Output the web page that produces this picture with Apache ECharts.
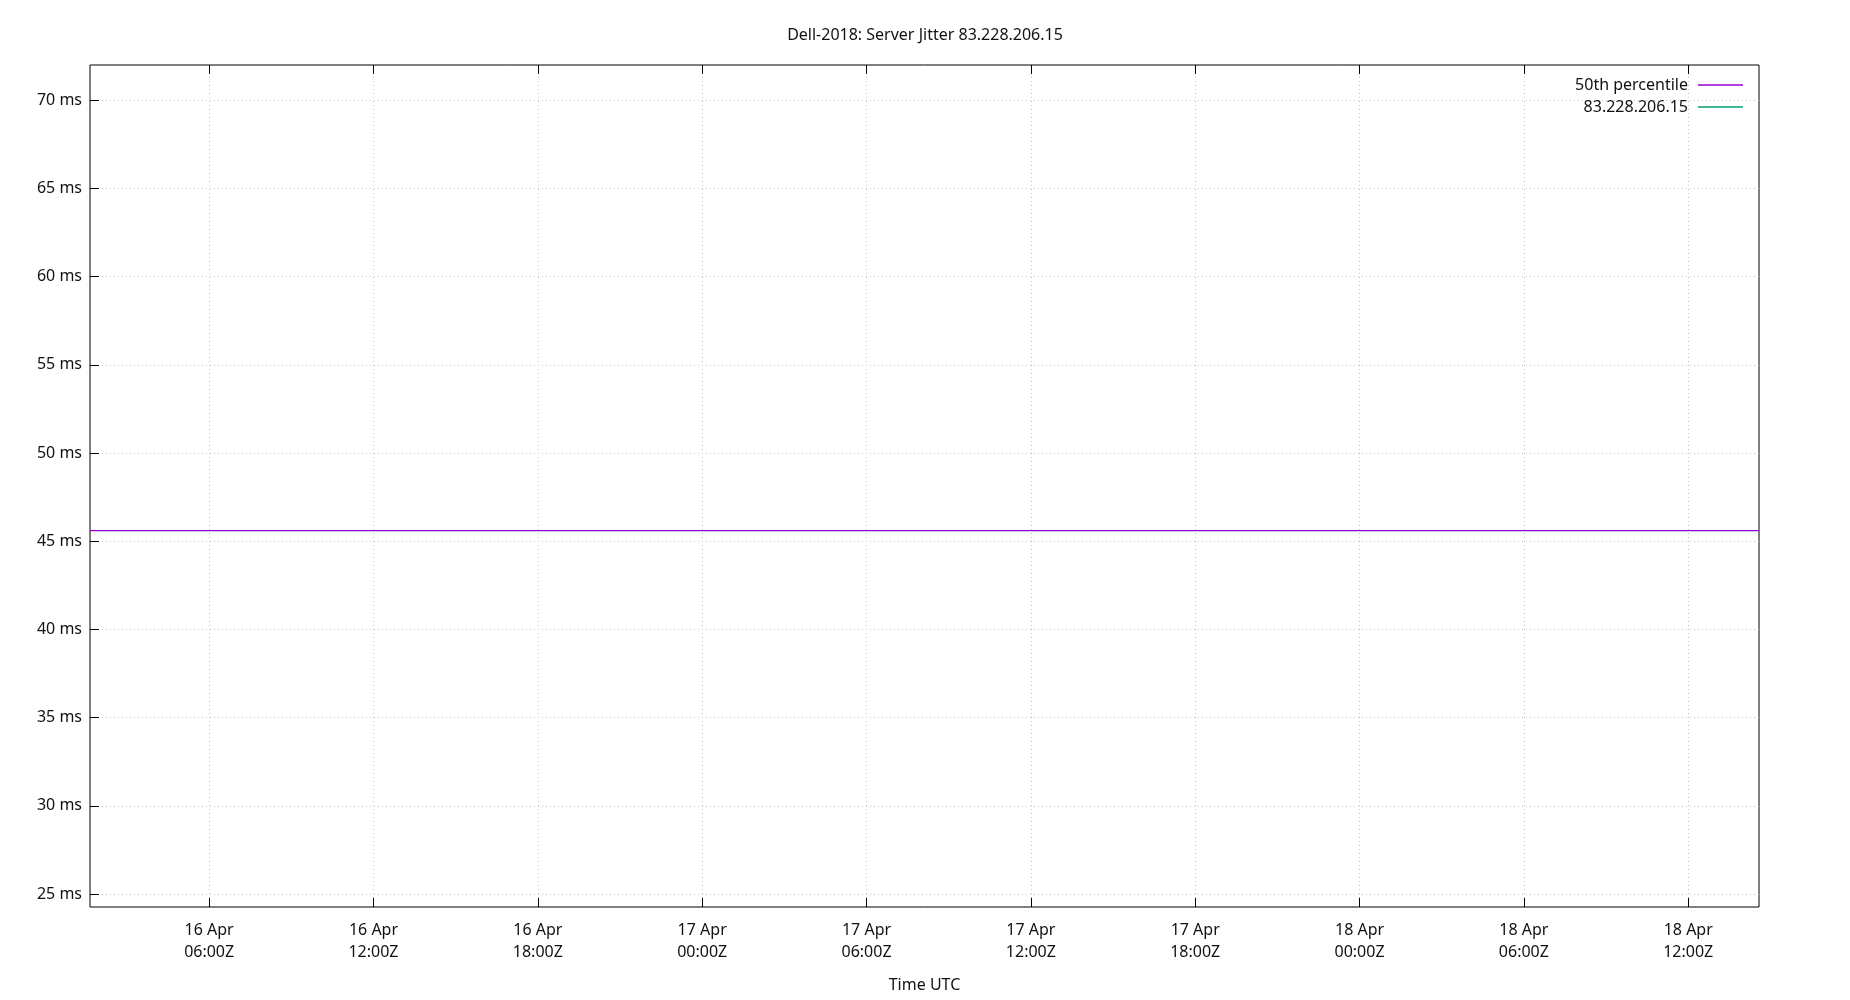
<!DOCTYPE html>
<html>
<head>
<meta charset="utf-8">
<title>Dell-2018: Server Jitter 83.228.206.15</title>
<script src="https://cdn.jsdelivr.net/npm/echarts@6/dist/echarts.min.js"></script>
<style>
  html, body { margin: 0; padding: 0; background: #fff; }
  #chart { width: 1850px; height: 1000px; }
</style>
</head>
<body>
<div id="chart"></div>
<script>
// data
const seriesNames = ['50th percentile', '83.228.206.15'];
const sampleTimes = [
  '2024-04-16T01:39:00Z', '2024-04-16T12:00:00Z', '2024-04-17T00:00:00Z',
  '2024-04-17T12:00:00Z', '2024-04-18T00:00:00Z', '2024-04-18T14:35:00Z'
];
const p50Values = [45.6, 45.6, 45.6, 45.6, 45.6, 45.6];
const hostValues = []; // nothing of this series is inside the plot
const xTicks = [
  '2024-04-16T06:00:00Z', '2024-04-16T12:00:00Z', '2024-04-16T18:00:00Z',
  '2024-04-17T00:00:00Z', '2024-04-17T06:00:00Z', '2024-04-17T12:00:00Z',
  '2024-04-17T18:00:00Z', '2024-04-18T00:00:00Z', '2024-04-18T06:00:00Z',
  '2024-04-18T12:00:00Z'
];
const xRange = ['2024-04-16T01:39:00Z', '2024-04-18T14:35:00Z'];
const yTicks = [25, 30, 35, 40, 45, 50, 55, 60, 65, 70];
const yRange = [24.27, 72];

const ms = s => Date.parse(s);
const months = ['Jan', 'Feb', 'Mar', 'Apr', 'May', 'Jun', 'Jul', 'Aug', 'Sep', 'Oct', 'Nov', 'Dec'];
const pad = n => (n < 10 ? '0' : '') + n;
function timeLabel(v) {
  const d = new Date(v);
  return d.getUTCDate() + ' ' + months[d.getUTCMonth()] + '\n' +
    pad(d.getUTCHours()) + ':' + pad(d.getUTCMinutes()) + 'Z';
}

const font = 'Noto Sans';
const textColor = '#111';
const xTickValues = xTicks.map(ms);

const myChart = echarts.init(document.getElementById('chart'));
const option = {
  animation: false,
  backgroundColor: '#fff',
  title: {
    text: 'Dell-2018: Server Jitter 83.228.206.15',
    left: 'center',
    top: 22,
    textStyle: { fontFamily: font, fontSize: 16, fontWeight: 'normal', color: textColor }
  },
  legend: {
    orient: 'vertical',
    right: 102,
    top: 71,
    align: 'right',
    icon: 'rect',
    itemWidth: 45,
    itemHeight: 1.5,
    itemGap: 4,
    textStyle: { fontFamily: font, fontSize: 16, lineHeight: 18, color: textColor, padding: [0, 5, 0, 0] },
    data: seriesNames
  },
  grid: {
    left: 90,
    right: 91,
    top: 65,
    bottom: 93,
    show: true,
    borderColor: '#000',
    borderWidth: 1
  },
  xAxis: [
    {
      type: 'value',
      min: ms(xRange[0]),
      max: ms(xRange[1]),
      name: 'Time UTC',
      nameLocation: 'middle',
      nameGap: 70,
      nameTextStyle: { fontFamily: font, fontSize: 16, color: textColor },
      axisLine: { show: false },
      axisTick: { inside: true, length: 9, customValues: xTickValues, lineStyle: { color: '#000' } },
      axisLabel: {
        customValues: xTickValues,
        formatter: timeLabel,
        margin: 12,
        lineHeight: 22,
        fontFamily: font,
        fontSize: 16,
        color: textColor
      },
      splitLine: { show: true, lineStyle: { color: '#c4c4c4', type: [1, 3], width: 1 } }
    },
    {
      // top mirror ticks
      type: 'value',
      position: 'top',
      min: ms(xRange[0]),
      max: ms(xRange[1]),
      axisLine: { show: false },
      axisTick: { inside: true, length: 9, customValues: xTickValues, lineStyle: { color: '#000' } },
      axisLabel: { show: false },
      splitLine: { show: false }
    }
  ],
  yAxis: {
    type: 'value',
    min: yRange[0],
    max: yRange[1],
    axisLine: { show: false },
    axisTick: { show: true, inside: true, length: 9, customValues: yTicks, lineStyle: { color: '#000' } },
    axisLabel: {
      customValues: yTicks,
      formatter: v => v + ' ms',
      margin: 8,
      fontFamily: font,
      fontSize: 16,
      color: textColor
    },
    splitLine: { show: true, lineStyle: { color: '#c4c4c4', type: [1, 3], width: 1 } }
  },
  series: [
    {
      name: seriesNames[0],
      type: 'line',
      symbol: 'none',
      lineStyle: { color: '#9400d3', width: 1.3 },
      itemStyle: { color: '#9400d3' },
      data: sampleTimes.map((t, i) => [ms(t), p50Values[i]])
    },
    {
      name: seriesNames[1],
      type: 'line',
      symbol: 'none',
      lineStyle: { color: '#009e73', width: 1.3 },
      itemStyle: { color: '#009e73' },
      data: hostValues
    }
  ]
};
myChart.setOption(option);
</script>
</body>
</html>
